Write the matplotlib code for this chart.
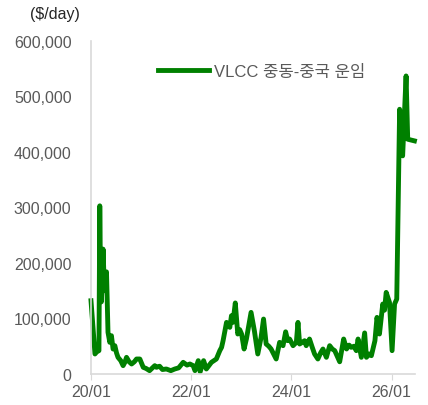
import matplotlib
matplotlib.use('Agg')
import matplotlib.pyplot as plt
import matplotlib.dates as mdates
import matplotlib.ticker as mticker
import pandas as pd

# VLCC 중동-중국 운임 ($/day)
dates = ['2020-01-01', '2020-01-30', '2020-02-12', '2020-02-28', '2020-03-05', '2020-03-12',
         '2020-03-17', '2020-03-29', '2020-04-08', '2020-04-23', '2020-05-04', '2020-05-17',
         '2020-05-29', '2020-06-10', '2020-06-23', '2020-07-05', '2020-07-16', '2020-08-05',
         '2020-08-22', '2020-09-04', '2020-09-16', '2020-10-05', '2020-10-23', '2020-11-12',
         '2020-11-28', '2020-12-22', '2021-01-16', '2021-02-05', '2021-03-03', '2021-04-10',
         '2021-04-22', '2021-05-15', '2021-06-05', '2021-07-03', '2021-08-05', '2021-09-03',
         '2021-10-01', '2021-11-03', '2021-12-01', '2021-12-22', '2022-01-15', '2022-01-28',
         '2022-02-21', '2022-03-07', '2022-04-01', '2022-04-21', '2022-05-28', '2022-06-15',
         '2022-07-03', '2022-07-28', '2022-08-10', '2022-08-21', '2022-09-15', '2022-10-09',
         '2022-10-21', '2022-11-01', '2022-11-18', '2022-12-06', '2022-12-20', '2023-01-03',
         '2023-01-21', '2023-02-07', '2023-03-13', '2023-04-06', '2023-05-01', '2023-05-25',
         '2023-06-12', '2023-07-01', '2023-07-20', '2023-08-06', '2023-09-12', '2023-10-07',
         '2023-11-01', '2023-11-20', '2023-12-05', '2023-12-19', '2024-01-13', '2024-02-06',
         '2024-02-18', '2024-03-01', '2024-03-20', '2024-04-06', '2024-04-18', '2024-05-12',
         '2024-06-01', '2024-06-18', '2024-07-12', '2024-08-01', '2024-08-18', '2024-09-12',
         '2024-10-06', '2024-10-25', '2024-11-12', '2024-12-18', '2025-01-16', '2025-02-06',
         '2025-02-25', '2025-03-12', '2025-04-01', '2025-04-18', '2025-05-01', '2025-05-25',
         '2025-06-18', '2025-07-01', '2025-07-20', '2025-08-06', '2025-09-01', '2025-09-16',
         '2025-10-04', '2025-10-28', '2025-11-10', '2025-11-22', '2025-12-16', '2026-01-04',
         '2026-01-22', '2026-02-07', '2026-02-28', '2026-03-22', '2026-04-16', '2026-04-28',
         '2026-06-16']
rates = [132000, 36000, 40000, 42000, 303000, 140000,
         130000, 225000, 150000, 184000, 75000, 57000,
         69000, 45000, 51000, 38000, 30000, 24000,
         15000, 21000, 30000, 22000, 18000, 22000,
         27000, 27000, 12000, 10000, 6000, 15000,
         12000, 14000, 8000, 9000, 6000, 9000,
         11000, 21000, 16000, 18000, 15000, 6000,
         24000, 4000, 24000, 9000, 21000, 24000,
         27000, 42000, 48000, 60000, 93000, 84000,
         105000, 93000, 128000, 72000, 80000, 72000,
         45000, 63000, 111000, 78000, 36000, 66000,
         99000, 54000, 50000, 45000, 27000, 57000,
         51000, 76000, 60000, 63000, 51000, 57000,
         93000, 54000, 57000, 60000, 51000, 63000,
         48000, 36000, 27000, 38000, 45000, 30000,
         51000, 45000, 42000, 22000, 63000, 45000,
         52000, 48000, 50000, 42000, 63000, 30000,
         74000, 30000, 36000, 33000, 60000, 102000,
         72000, 126000, 115000, 147000, 129000, 42000,
         126000, 135000, 477000, 393000, 537000, 423000,
         420000]

xticks = ['2020-01-01', '2022-01-01', '2024-01-01', '2026-01-01']
yticks = [0, 100000, 200000, 300000, 400000, 500000, 600000]
series_name = 'VLCC 중동-중국 운임'

plt.rcParams['font.family'] = ['Liberation Sans', 'Noto Sans CJK KR', 'DejaVu Sans']

fig = plt.figure(figsize=(4.28, 4.06), dpi=100)
ax = fig.add_axes([0.2126, 0.0764, 0.757, 0.8202])

ax.plot(pd.to_datetime(dates), rates, color='#008000', lw=3.5, solid_joinstyle='round',
        label=series_name, clip_on=False)

ax.set_ylim(0, 600000)
ax.set_xlim(pd.Timestamp('2020-01-01'), pd.Timestamp('2026-06-20'))
ax.set_yticks(yticks)
ax.yaxis.set_major_formatter(mticker.FuncFormatter(lambda v, p: '{:,.0f}'.format(v)))
ax.set_xticks(pd.to_datetime(xticks))
ax.xaxis.set_major_formatter(mdates.DateFormatter('%y/%m'))

for s in ['top', 'right']:
    ax.spines[s].set_visible(False)
for s in ['left', 'bottom']:
    ax.spines[s].set_color('#d9d9d9')
    ax.spines[s].set_linewidth(1.2)
ax.tick_params(axis='y', length=0, pad=14, labelsize=11.5, labelcolor='#595959')
ax.tick_params(axis='x', length=4, color='#d9d9d9', pad=3, labelsize=11.5, labelcolor='#595959')

fig.text(0.07, 0.965, '($/day)', fontsize=11.5, color='#262626', va='center')

ax.legend(loc='upper left', bbox_to_anchor=(0.16, 0.975), frameon=False, fontsize=12,
          handlelength=3.1, handletextpad=0.3, labelcolor='#595959')

fig.savefig('out.png', dpi=100)
